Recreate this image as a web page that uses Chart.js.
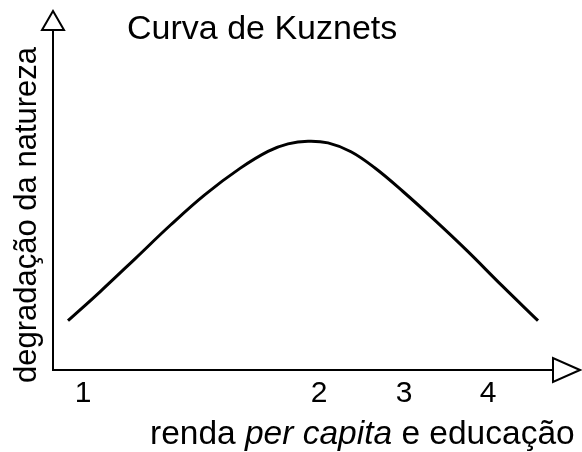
<!DOCTYPE html>
<html>
<head>
<meta charset="utf-8">
<script src="https://cdn.jsdelivr.net/npm/chart.js@4"></script>
<style>
    html, body { margin: 0; padding: 0; background: #fff; }
    #wrap { width: 582px; height: 452px; }
</style>
</head>
<body>
<div id="wrap"><canvas id="kuznetsChart" width="582" height="452"></canvas></div>
<script>
// Kuznets curve (x: 0-10 on the income axis, y: 0-100 degradation)
const curveX = [0.30, 0.94, 1.64, 2.34, 3.04, 3.74, 4.30, 4.70, 5.10, 5.50, 5.96, 6.44, 7.00, 7.64, 8.28, 8.98, 9.70];
const curveY = [14.5, 23.0, 32.7, 42.5, 51.6, 59.3, 64.3, 66.5, 67.3, 66.8, 64.2, 59.4, 52.5, 44.0, 35.1, 24.8, 14.5];

// uneven tick positions on the income axis
const tickValues = [0.6, 5.32, 7.02, 8.7];
const tickLabels = ['1', '2', '3', '4'];

const chartTitle = 'Curva de Kuznets';
const yTitle = 'degradação da natureza';
const xTitleParts = [
    { text: 'renda ', italic: false },
    { text: 'per capita', italic: true },
    { text: ' e educação', italic: false }
];

const FONT = '"Liberation Sans", Arial, sans-serif';

const points = curveX.map((x, i) => ({ x: x, y: curveY[i] }));

// arrows + free text (title, axis titles)
const decorPlugin = {
    id: 'decor',
    afterDraw(chart) {
        const ctx = chart.ctx;
        const a = chart.chartArea;
        ctx.save();
        ctx.strokeStyle = '#000';
        ctx.fillStyle = '#fff';
        ctx.lineWidth = 2;

        // open arrow on top of y axis
        ctx.beginPath();
        ctx.moveTo(a.left, a.top - 19);
        ctx.lineTo(a.left - 11, a.top);
        ctx.lineTo(a.left + 11, a.top);
        ctx.closePath();
        ctx.fill();
        ctx.stroke();

        // open arrow at end of x axis
        ctx.beginPath();
        ctx.moveTo(a.right + 27, a.bottom);
        ctx.lineTo(a.right, a.bottom - 12);
        ctx.lineTo(a.right, a.bottom + 12);
        ctx.closePath();
        ctx.fill();
        ctx.stroke();

        ctx.fillStyle = '#000';

        // title
        ctx.font = '34px ' + FONT;
        ctx.textAlign = 'left';
        ctx.textBaseline = 'alphabetic';
        ctx.fillText(chartTitle, 127, 39);

        // y title
        ctx.save();
        ctx.translate(36, 215);
        ctx.rotate(-Math.PI / 2);
        ctx.font = '31px ' + FONT;
        ctx.textAlign = 'center';
        ctx.fillText(yTitle, 0, 0);
        ctx.restore();

        // x title, part italic
        let x = 150;
        xTitleParts.forEach(p => {
            ctx.font = (p.italic ? 'italic ' : '') + '33.5px ' + FONT;
            ctx.fillText(p.text, x, 444);
            x += ctx.measureText(p.text).width;
        });

        ctx.restore();
    }
};

new Chart(document.getElementById('kuznetsChart'), {
    type: 'line',
    data: {
        datasets: [{
            data: points,
            borderColor: '#000',
            borderWidth: 3,
            pointRadius: 0,
            fill: false,
            tension: 0.4
        }]
    },
    options: {
        responsive: false,
        animation: false,
        events: [],
        layout: { padding: { left: 53, right: 29, top: 30, bottom: 34 } },
        plugins: {
            legend: { display: false },
            tooltip: { enabled: false },
            title: { display: false }
        },
        scales: {
            x: {
                type: 'linear',
                min: 0,
                max: 10,
                grid: { display: false, drawTicks: false },
                border: { display: true, color: '#000', width: 2 },
                afterBuildTicks: scale => {
                    scale.ticks = tickValues.map(v => ({ value: v }));
                },
                ticks: {
                    color: '#000',
                    padding: 6,
                    maxRotation: 0,
                    autoSkip: false,
                    font: { family: FONT, size: 30 },
                    callback: (value) => tickLabels[tickValues.indexOf(value)]
                }
            },
            y: {
                min: 0,
                max: 100,
                grid: { display: false, drawTicks: false },
                border: { display: true, color: '#000', width: 2 },
                ticks: { display: false }
            }
        }
    },
    plugins: [decorPlugin]
});
</script>
</body>
</html>
